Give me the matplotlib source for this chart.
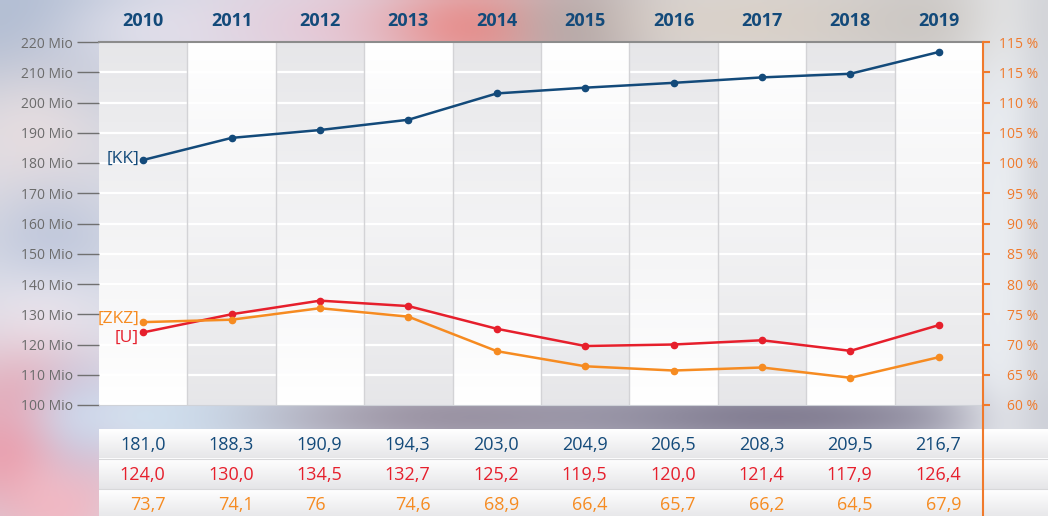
import numpy as np
import matplotlib.pyplot as plt

plt.rcParams['font.family'] = ['Open Sans', 'DejaVu Sans']

# data
years = ['2010', '2011', '2012', '2013', '2014', '2015', '2016', '2017', '2018', '2019']
kk = [181.0, 188.3, 190.9, 194.3, 203.0, 204.9, 206.5, 208.3, 209.5, 216.7]
u = [124.0, 130.0, 134.5, 132.7, 125.2, 119.5, 120.0, 121.4, 117.9, 126.4]
zkz = [73.7, 74.1, 76, 74.6, 68.9, 66.4, 65.7, 66.2, 64.5, 67.9]
zkz_text = ['73,7', '74,1', '76', '74,6', '68,9', '66,4', '65,7', '66,2', '64,5', '67,9']
left_ticks = list(range(100, 230, 10))
left_labels = ['%d Mio' % v for v in left_ticks]
right_ticks = list(range(60, 125, 5))
right_labels = ['60 %', '65 %', '70 %', '75 %', '80 %', '85 %', '90 %', '95 %',
                '100 %', '105 %', '110 %', '115 %', '115 %']

NAVY = '#134a7a'
RED = '#e61f2c'
ORANGE = '#f68b21'
ORANGE_AX = '#f07a2c'
GREY = '#6b6b6b'

W, H = 1048, 516
fig = plt.figure(figsize=(W / 100, H / 100), dpi=100)


def fx(px):
    return px / W


def fy(py):
    # pixel from top -> figure fraction from bottom
    return 1 - py / H


# blurred photo-like background, built from soft blobs
gw, gh = 262, 129
xx, yy = np.meshgrid(np.linspace(0, W, gw), np.linspace(0, H, gh))
bg = np.ones((gh, gw, 3)) * np.array([0.84, 0.86, 0.90])
blobs = [
    # (cx, cy, sx, sy, color, strength)
    (40, 30, 90, 60, (0.60, 0.67, 0.78), 0.9),
    (160, 30, 90, 40, (0.90, 0.90, 0.94), 0.8),
    (330, 25, 90, 40, (0.90, 0.80, 0.86), 0.9),
    (480, 25, 70, 35, (0.92, 0.52, 0.52), 1.0),
    (590, 25, 50, 35, (0.55, 0.50, 0.52), 0.8),
    (760, 20, 160, 40, (0.86, 0.82, 0.78), 0.9),
    (960, 20, 90, 40, (0.78, 0.76, 0.74), 0.8),
    (30, 140, 60, 60, (0.93, 0.88, 0.88), 0.8),
    (50, 250, 50, 50, (0.70, 0.74, 0.84), 0.7),
    (40, 320, 60, 40, (0.95, 0.95, 0.97), 0.7),
    (20, 440, 60, 60, (0.92, 0.58, 0.64), 1.0),
    (60, 500, 40, 40, (0.96, 0.72, 0.76), 0.9),
    (80, 420, 30, 40, (0.72, 0.80, 0.92), 0.6),
    (200, 418, 110, 25, (0.84, 0.91, 0.97), 1.0),
    (450, 418, 140, 25, (0.63, 0.60, 0.66), 1.0),
    (780, 418, 180, 25, (0.52, 0.50, 0.58), 1.0),
    (1015, 250, 40, 250, (0.94, 0.95, 0.96), 0.9),
    (1045, 250, 20, 250, (0.78, 0.79, 0.82), 0.6),
]
for cx, cy, sx, sy, col, s in blobs:
    w = s * np.exp(-((xx - cx) ** 2 / (2 * sx ** 2) + (yy - cy) ** 2 / (2 * sy ** 2)))
    bg = bg * (1 - w[..., None]) + np.array(col) * w[..., None]
ax_bg = fig.add_axes([0, 0, 1, 1], zorder=-10)
ax_bg.imshow(bg, extent=(0, W, H, 0), aspect='auto', interpolation='bilinear')
ax_bg.set_xlim(0, W)
ax_bg.set_ylim(H, 0)
ax_bg.axis('off')

# main plot
x0, x1, y0, y1 = 99, 983, 42, 405
ax = fig.add_axes([fx(x0), fy(y1), fx(x1 - x0), (y1 - y0) / H])
n = len(years)
xs = np.arange(n) + 0.5

grad = np.linspace(0, 1, 64)[:, None]
light, dark = np.array([1.0, 1.0, 1.0]), np.array([0.905, 0.905, 0.915])
for i in range(n):
    t = grad if i % 2 == 0 else 1 - grad
    col = dark * (1 - t[..., None]) + light * t[..., None]
    ax.imshow(col, extent=(i, i + 1, 100, 220), origin='upper', aspect='auto',
              interpolation='bilinear', zorder=0)
for v in left_ticks[1:-1]:
    ax.axhline(v, color='white', lw=1.6, zorder=1)
for i in range(1, n):
    ax.axvline(i, color='#d3d3d6', lw=1, zorder=1)

ax.set_xlim(0, n)
ax.set_ylim(100, 220)
ax.set_xticks([])
ax.set_yticks(left_ticks)
ax.set_yticklabels(left_labels)
ax.tick_params(axis='y', direction='out', length=16, width=1, color='#707070',
               labelsize=10, labelcolor=GREY, pad=3)
ax.spines['left'].set_visible(False)
ax.spines['right'].set_visible(False)
ax.spines['top'].set_color('#8c8c8c')
ax.spines['top'].set_linewidth(1.5)
ax.spines['bottom'].set_color('#cfd2d8')

ax.plot(xs, kk, color=NAVY, lw=1.8, marker='o', ms=4.5, zorder=3)
ax.plot(xs, u, color=RED, lw=1.8, marker='o', ms=4.5, zorder=3)

ax2 = ax.twinx()
ax2.plot(xs, zkz, color=ORANGE, lw=1.8, marker='o', ms=4.5, zorder=3)
ax2.set_ylim(60, 120)
ax2.set_yticks(right_ticks)
ax2.set_yticklabels(right_labels)
ax2.tick_params(axis='y', direction='out', length=5, width=1.5, color=ORANGE_AX,
                labelsize=10, labelcolor=ORANGE_AX, pad=35)
plt.setp(ax2.get_yticklabels(), ha='right')
for s in ['left', 'top', 'bottom']:
    ax2.spines[s].set_visible(False)
ax2.spines['right'].set_color(ORANGE_AX)
ax2.spines['right'].set_linewidth(1.5)

# years on top
for i, yr in enumerate(years):
    ax.text(xs[i], 1 + 21 / (y1 - y0), yr, transform=ax.get_xaxis_transform(),
            ha='center', va='center', fontsize=13, fontweight='bold', color=NAVY)

# series labels
ax.annotate('[KK]', xy=(xs[0], kk[0]), xytext=(-3, 1), textcoords='offset points',
            ha='right', va='center', fontsize=12.5, color=NAVY)
ax2.annotate('[ZKZ]', xy=(xs[0], zkz[0]), xytext=(-3, 2), textcoords='offset points',
             ha='right', va='center', fontsize=12.5, color=ORANGE)
ax.annotate('[U]', xy=(xs[0], u[0]), xytext=(-3, -4), textcoords='offset points',
            ha='right', va='center', fontsize=12.5, color=RED)

# value table below
t_top = 429
tab = fig.add_axes([fx(x0), 0, fx(W - x0), (H - t_top) / H])
xmax = n * (W - x0) / (x1 - x0)
rows_h = (H - t_top) / 30
tab.set_xlim(0, xmax)
tab.set_ylim(0, rows_h)
tab.axis('off')
rgrad = np.linspace(0, 1, 32)[:, None]
rcol = np.array([1, 1, 1]) * (1 - rgrad[..., None]) + np.array([0.90, 0.90, 0.91]) * rgrad[..., None]
rows = [
    (['%.1f' % v for v in kk], NAVY),
    (['%.1f' % v for v in u], RED),
    (zkz_text, ORANGE),
]
for r, (vals, col) in enumerate(rows):
    top = rows_h - r
    bot = top - 1
    tab.imshow(rcol, extent=(0, xmax, bot, top), origin='upper', aspect='auto',
               interpolation='bilinear', zorder=0)
    tab.axhline(bot, color='#d8d8da', lw=0.8, zorder=1)
    for i, s in enumerate(vals):
        s = s.replace('.', ',')
        off = 16 if ',' in s else 4
        tab.annotate(s, xy=(xs[i], (top + bot) / 2), xytext=(off, -1),
                     textcoords='offset points', ha='right', va='center',
                     fontsize=13, color=col, zorder=2)
tab.set_xlim(0, xmax)
tab.set_ylim(0, rows_h)
tab.axvline(n, color=ORANGE_AX, lw=1.5, zorder=3)

# orange axis line continues through the gap down to the table
fig.add_artist(plt.Line2D([fx(x1), fx(x1)], [fy(y1), fy(t_top)], color=ORANGE_AX, lw=1.5))

fig.savefig('out.png', dpi=100)
